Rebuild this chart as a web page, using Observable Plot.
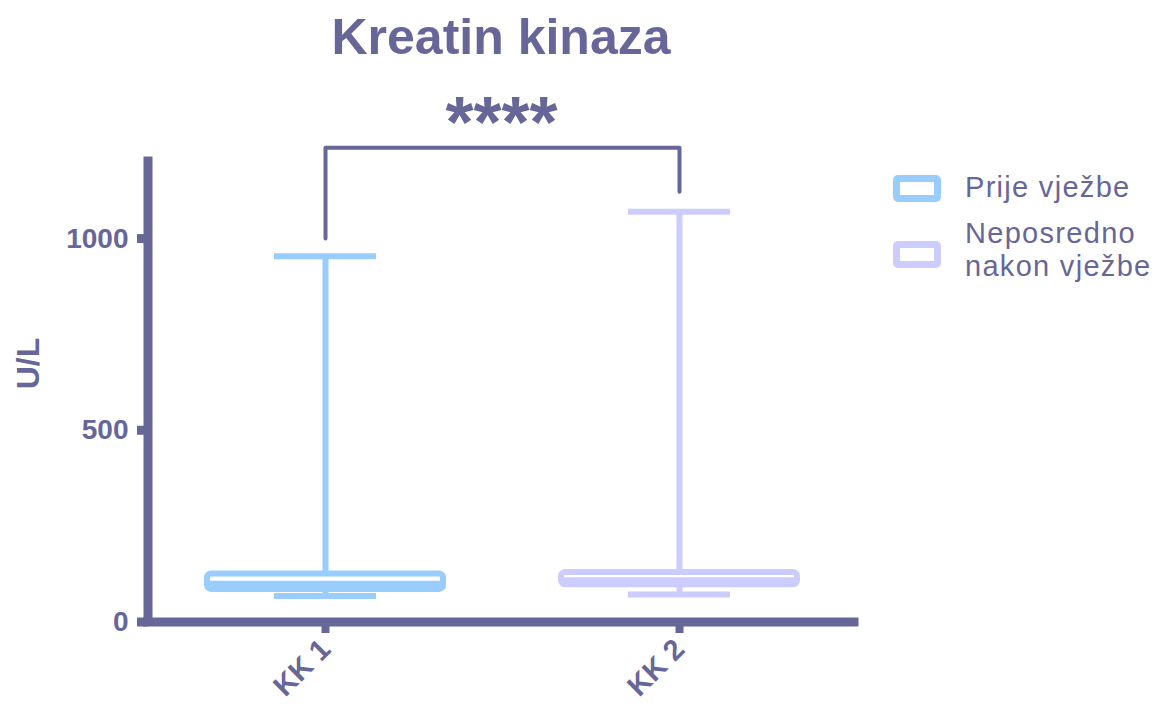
<!DOCTYPE html>
<html>
<head>
<meta charset="utf-8">
<script src="https://cdn.jsdelivr.net/npm/d3@7"></script>
<script src="https://cdn.jsdelivr.net/npm/@observablehq/plot@0.6"></script>
<style>
  html, body { margin: 0; padding: 0; background: #ffffff; }
  #wrap { position: relative; width: 1159px; height: 704px; overflow: hidden; font-family: "Liberation Sans", Arial, sans-serif; }
  #chart { position: absolute; left: 0; top: 0; }
  .legend { position: absolute; left: 0; top: 0; }
  .sw { position: absolute; box-sizing: border-box; width: 48px; height: 27px; border: 7px solid; border-radius: 5px; background: #fff; }
  .lt { position: absolute; color: #666699; font-size: 29px; letter-spacing: 1.3px; line-height: 33px; white-space: nowrap; }
</style>
</head>
<body>
<div id="wrap">
  <div id="chart"></div>
  <div class="legend" id="legend"></div>
</div>
<script>
// ---- data ----
const categories = ["KK 1", "KK 2"];
const seriesNames = ["Prije vježbe", "Neposredno nakon vježbe"];
const seriesLines = [["Prije vježbe"], ["Neposredno", "nakon vježbe"]];
const mins = [68, 72];
const q1s = [85, 97];
const medians = [100, 109];
const q3s = [125, 129];
const maxs = [954, 1070];
const yTicks = [0, 500, 1000];
const colors = ["#99ccff", "#ccccff"];
const title = "Kreatin kinaza";
const yLabel = "U/L";
const sigLabel = "****";
const bracketCats = ["KK 1", "KK 1", "KK 2", "KK 2"];
const bracketY = [1000, 1237, 1237, 1122];
const yMax = 1214;

const ink = "#666699";
const stats = categories.map((c, i) => ({cat: c, min: mins[i], q1: q1s[i], median: medians[i], q3: q3s[i], max: maxs[i]}));
const bracket = bracketCats.map((c, i) => ({cat: c, y: bracketY[i]}));

const boxInset = 59;
const capInset = 126;

const chart = Plot.plot({
  width: 1159,
  height: 704,
  marginLeft: 147.5,
  marginRight: 302.5,
  marginTop: 156,
  marginBottom: 82.5,
  style: {fontFamily: "'Liberation Sans', Arial, sans-serif", background: "transparent", overflow: "visible"},
  x: {type: "band", domain: categories, padding: 0},
  y: {domain: [0, yMax]},
  color: {domain: categories, range: colors},
  marks: [
    Plot.ruleX(stats, {x: "cat", y1: "q3", y2: "max", stroke: "cat", strokeWidth: 6}),
    Plot.ruleX(stats, {x: "cat", y1: "min", y2: "q1", stroke: "cat", strokeWidth: 6}),
    Plot.tickY(stats, {x: "cat", y: "max", stroke: "cat", strokeWidth: 6, insetLeft: capInset, insetRight: capInset}),
    Plot.tickY(stats, {x: "cat", y: "min", stroke: "cat", strokeWidth: 6, insetLeft: capInset, insetRight: capInset}),
    Plot.rect(stats, {x: "cat", y1: "q1", y2: "q3", fill: "white", stroke: "cat", strokeWidth: 6, rx: 4, insetLeft: boxInset, insetRight: boxInset}),
    Plot.tickY(stats, {x: "cat", y: "median", stroke: "cat", strokeWidth: 6, insetLeft: boxInset + 3, insetRight: boxInset + 3}),
    Plot.line(bracket, {x: "cat", y: "y", stroke: ink, strokeWidth: 4, strokeLinejoin: "round", clip: false}),
    Plot.text([sigLabel], {text: d => d, frameAnchor: "top", lineAnchor: "bottom", dy: -10, dx: -1, fontSize: 72, fontWeight: "bold", fill: ink}),
    Plot.text([title], {text: d => d, frameAnchor: "top", lineAnchor: "bottom", dy: -103, dx: -1.5, fontSize: 50, fontWeight: "bold", fill: ink}),
    Plot.text([yLabel], {text: d => d, frameAnchor: "left", rotate: -90, dx: -119.5, fontSize: 32, fontWeight: "bold", fill: ink}),
    Plot.frame({anchor: "left", stroke: ink, strokeWidth: 9, strokeLinecap: "butt"}),
    Plot.ruleY([0], {stroke: ink, strokeWidth: 9, insetLeft: -4.5, insetRight: -2}),
    Plot.axisY({ticks: yTicks, tickFormat: d => String(d), tickSize: 10.5, tickPadding: 9, fontSize: 28, fontWeight: "bold", strokeWidth: 9, color: ink, label: null}),
    Plot.axisX({tickSize: 11.5, tickRotate: -45, tickPadding: 11, fontSize: 29, fontWeight: "bold", strokeWidth: 8, color: ink, label: null})
  ]
});
document.getElementById("chart").appendChild(chart);

// ---- legend (HTML, right of plot) ----
const legend = document.getElementById("legend");
const swTops = [175, 241];
const txtTops = [170.5, 216.5];
seriesNames.forEach((name, i) => {
  const sw = document.createElement("div");
  sw.className = "sw";
  sw.style.left = "893px";
  sw.style.top = swTops[i] + "px";
  sw.style.borderColor = colors[i];
  legend.appendChild(sw);
  const t = document.createElement("div");
  t.className = "lt";
  t.style.left = "965px";
  t.style.top = txtTops[i] + "px";
  t.innerHTML = seriesLines[i].join("<br>");
  legend.appendChild(t);
});
</script>
</body>
</html>
